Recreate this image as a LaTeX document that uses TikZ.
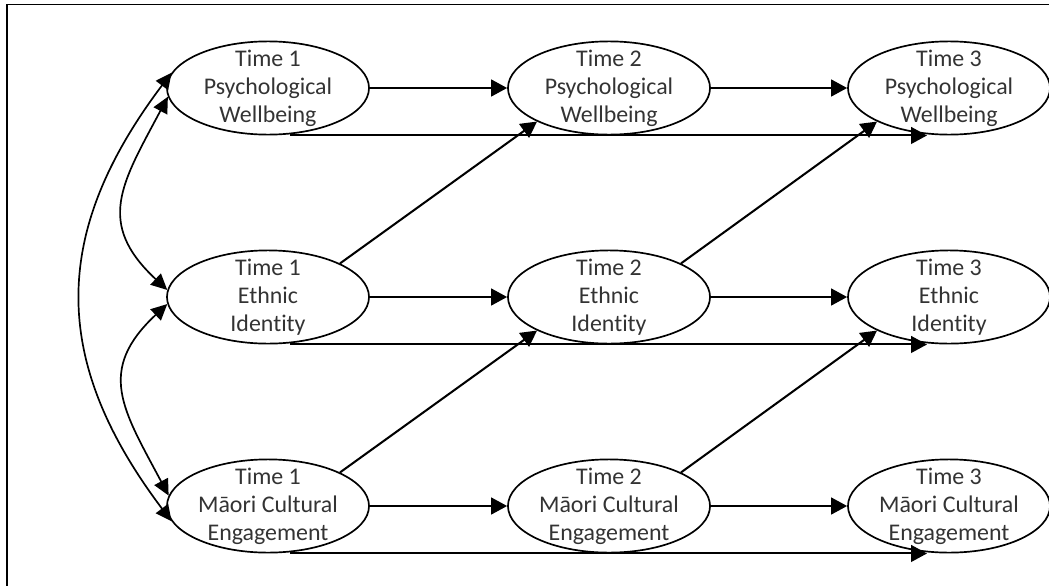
\documentclass[tikz,border=0pt]{standalone}
\usepackage{fontspec}
\setmainfont{Carlito}[Ligatures=NoCommon]
\usetikzlibrary{arrows.meta,shapes.geometric}

\tikzset{
  construct/.style={ellipse, draw, line width=1.2pt, inner xsep=0pt, inner ysep=-9pt,
    minimum width=5.05cm, minimum height=2.33cm, align=center,
    font=\fontsize{17}{20}\selectfont, text=black!80},
  path/.style={line width=1.45pt, -{Triangle[length=0.4cm,width=0.42cm]}},
  covar/.style={line width=1.2pt,
    {Triangle[length=0.4cm,width=0.38cm]}-{Triangle[length=0.4cm,width=0.38cm]}},
}

\begin{document}
\begin{tikzpicture}[x=0.025cm, y=0.025cm]
  \useasboundingbox (0,0) rectangle (1049,-585);
  % outer frame
  \draw[line width=1.1pt] (7,-600) -- (7,-4.5) -- (1060,-4.5);

  % Time 1 / Time 2 / Time 3 constructs
  \node[construct] (pw1) at (268,-88)  {Time 1\\Psychological\\Wellbeing};
  \node[construct] (pw2) at (609,-88)  {Time 2\\Psychological\\Wellbeing};
  \node[construct] (pw3) at (949,-88)  {Time 3\\Psychological\\Wellbeing};
  \node[construct] (ei1) at (268,-297) {Time 1\\Ethnic\\Identity};
  \node[construct] (ei2) at (609,-297) {Time 2\\Ethnic\\Identity};
  \node[construct] (ei3) at (949,-297) {Time 3\\Ethnic\\Identity};
  \node[construct] (mc1) at (268,-506) {Time 1\\Māori Cultural\\Engagement};
  \node[construct] (mc2) at (609,-506) {Time 2\\Māori Cultural\\Engagement};
  \node[construct] (mc3) at (949,-506) {Time 3\\Māori Cultural\\Engagement};

  % stability paths
  \foreach \a/\b in {pw1/pw2, pw2/pw3, ei1/ei2, ei2/ei3, mc1/mc2, mc2/mc3}
    \draw[path] (\a) -- (\b);

  % lag-2 stability paths along the bottom of each row
  \foreach \r in {pw, ei, mc}{
    \coordinate (\r s) at ([xshift=0.55cm]\r1.south);
    \coordinate (\r e) at ([xshift=-0.55cm]\r3.south);
    \draw[path] (\r s) -- (\r e);
  }

  % cross-lagged paths
  \draw[path] (ei1.25) -- (pw2.205);
  \draw[path] (ei2.25) -- (pw3.205);
  \draw[path] (mc1.25) -- (ei2.205);
  \draw[path] (mc2.25) -- (ei3.205);

  % Time 1 covariances
  \draw[covar] (pw1.171) to[out=233, in=127, looseness=1.15] (mc1.189);
  \draw[covar] (pw1.185) to[out=242, in=137, looseness=1.3] (ei1.176);
  \draw[covar] (ei1.184) to[out=223, in=118, looseness=1.3] (mc1.174);
\end{tikzpicture}
\end{document}
